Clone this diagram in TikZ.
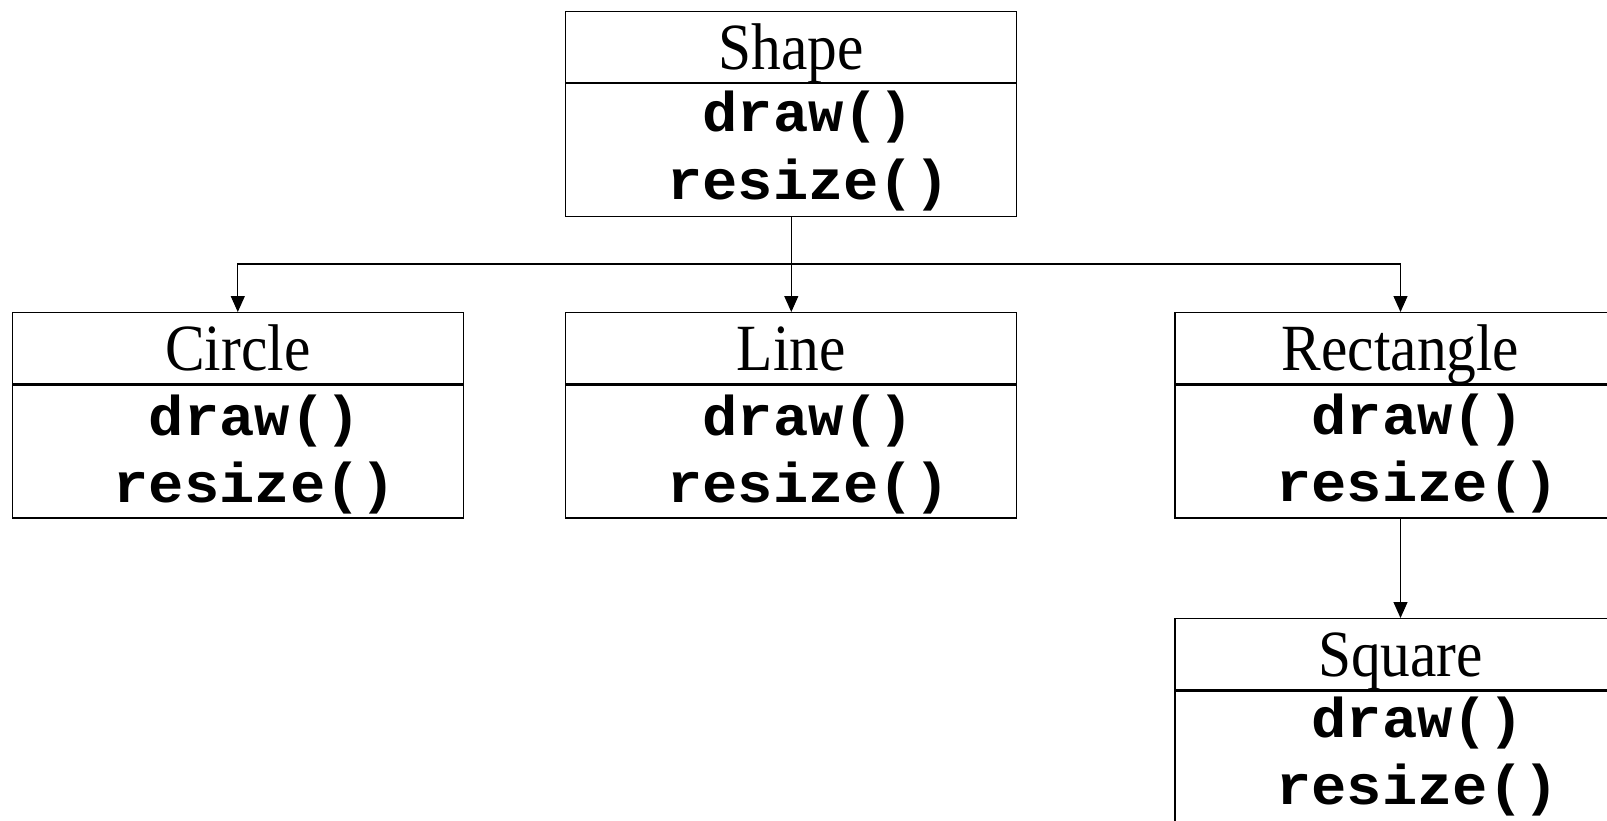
\documentclass[tikz,border=0pt]{standalone}
\usepackage{fontspec}
\usepackage{graphicx}
\setmainfont{Liberation Serif}
\newfontfamily\codefont{Liberation Mono}
\usetikzlibrary{arrows.meta}
\tikzset{
  hdr/.style={draw, line width=1.3pt, rectangle, inner sep=0pt, minimum width=451pt,
    minimum height=71pt, text height=58pt, text depth=13pt,
    font=\fontsize{66}{70}\selectfont},
  bodybox/.style={draw, line width=1.3pt, rectangle, inner sep=0pt, minimum width=451pt,
    minimum height=133pt},
  meth/.style={inner sep=0pt, font=\codefont\bfseries\fontsize{56}{60}\selectfont},
  conn/.style={line width=1.2pt},
  arr/.style={conn, -{Triangle[length=16pt,width=14pt]}}
}
\newcommand{\umlclass}[6]{%
  \node[hdr, anchor=north] (#1) at (#2,#3) {\scalebox{0.9}[1]{#4}};
  \node[bodybox, anchor=north] (#1b) at (#1.south) {};
  \node[meth, anchor=base] (#1m1) at ([xshift=17pt,yshift=-#5pt]#1b.north) {\scalebox{1.05}[1]{draw()}};
  \node[meth, anchor=base] (#1m2) at ([xshift=17pt,yshift=-#6pt]#1b.north) {\scalebox{1.05}[1]{resize()}};
}
\begin{document}
\begin{tikzpicture}[x=1pt,y=-1pt]
\useasboundingbox (0,0) rectangle (1607,820);
\fill[white] (0,0) rectangle (1607,820);
\umlclass{shape}{791.3}{10.5}{Shape}{49}{117}
\umlclass{circle}{237.8}{312}{Circle}{51}{118}
\umlclass{line}{791.3}{312}{Line}{51}{118}
\umlclass{rect}{1400.5}{312}{Rectangle}{50}{117}
\umlclass{square}{1400.5}{618}{Square}{47}{114}
\coordinate (hub) at (791.3,264);
\draw[arr] (shapeb.south) -- (line.north);
\draw[arr] (hub) -| (circle.north);
\draw[arr] (hub) -| (rect.north);
\draw[arr] (rectb.south) -- (square.north);
\end{tikzpicture}
\end{document}
